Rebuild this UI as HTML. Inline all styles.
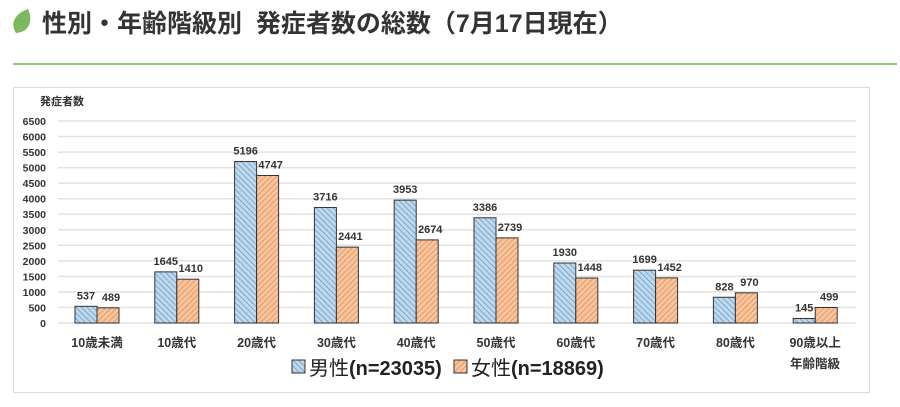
<!DOCTYPE html>
<html><head><meta charset="utf-8"><style>
html,body{margin:0;padding:0;background:#fff;width:900px;height:407px;overflow:hidden}
svg{display:block}
text{font-family:"Liberation Sans","Noto Sans CJK JP",sans-serif}
</style></head><body>
<svg width="900" height="407" viewBox="0 0 900 407">
<defs>
<pattern id="pm" width="4" height="4" patternUnits="userSpaceOnUse" patternTransform="rotate(-45)">
<rect width="4" height="4" fill="#bcd9ef"/><line x1="0" y1="0" x2="0" y2="4" stroke="#5b86ad" stroke-width="1.2"/></pattern>
<pattern id="pf" width="4" height="4" patternUnits="userSpaceOnUse" patternTransform="rotate(45)">
<rect width="4" height="4" fill="#f7c49d"/><line x1="0" y1="0" x2="0" y2="4" stroke="#d9803f" stroke-width="1.2"/></pattern>
</defs>
<path d="M16 33 C10 24 14 14 28 9 C33 20 30 32 16 33Z" fill="#7cb860"/>
<text x="42" y="32" font-size="25" font-weight="bold" fill="#333">性別・年齢階級別&#160;&#160;発症者数の総数（7月17日現在）</text>
<rect x="13" y="63" width="884" height="2" fill="#8fcb6e"/>
<rect x="13.5" y="87.5" width="856" height="305" fill="#fff" stroke="#ddd"/>
<text x="40" y="105" font-size="11" font-weight="bold" fill="#333">発症者数</text>
<g id="grid"></g>
<g id="bars"></g>
<rect x="292" y="360" width="13" height="13" fill="url(#pm)" stroke="#333"/>
<text x="309" y="375" font-size="20" fill="#222">男性<tspan font-weight="bold">(n=23035)</tspan></text>
<rect x="454" y="360" width="13" height="13" fill="url(#pf)" stroke="#333"/>
<text x="471" y="375" font-size="20" fill="#222">女性<tspan font-weight="bold">(n=18869)</tspan></text>
</svg>
<script>
var ns="http://www.w3.org/2000/svg",g=document.getElementById("grid"),b=document.getElementById("bars");
function el(p,t,a,tx){var e=document.createElementNS(ns,t);for(var k in a)e.setAttribute(k,a[k]);if(tx!=null)e.textContent=tx;p.appendChild(e);return e}
var y0=323,s=(323-121)/6500;
for(var v=0;v<=6500;v+=500){var y=y0-v*s;el(g,"line",{x1:58,x2:856,y1:y,y2:y,stroke:"#e2e2e2","stroke-width":1.5});el(g,"text",{x:46,y:y+4,"font-size":10.5,"font-weight":"bold","text-anchor":"end",fill:"#333"},v)}
var cats=["10歳未満","10歳代","20歳代","30歳代","40歳代","50歳代","60歳代","70歳代","80歳代","90歳以上"];
var m=[537,1645,5196,3716,3953,3386,1930,1699,828,145],f=[489,1410,4747,2441,2674,2739,1448,1452,970,499];
for(var i=0;i<10;i++){var c=97+79.8*i,w=22;
var hm=m[i]*s,hf=f[i]*s;
el(b,"rect",{x:c-w,y:y0-hm,width:w,height:hm,fill:"url(#pm)",stroke:"#333","stroke-width":1});
el(b,"rect",{x:c,y:y0-hf,width:w,height:hf,fill:"url(#pf)",stroke:"#333","stroke-width":1});
el(b,"text",{x:c-w/2,y:y0-hm-7,"font-size":11,"font-weight":"bold","text-anchor":"middle",fill:"#333"},m[i]);
el(b,"text",{x:c+w/2+3,y:y0-hf-7,"font-size":11,"font-weight":"bold","text-anchor":"middle",fill:"#333"},f[i]);
el(b,"text",{x:c,y:347,"font-size":12.5,"font-weight":"bold","text-anchor":"middle",fill:"#333"},cats[i]);}
el(b,"text",{x:815,y:368,"font-size":12.5,"font-weight":"bold","text-anchor":"middle",fill:"#333"},"年齢階級");
</script>
</body></html>
